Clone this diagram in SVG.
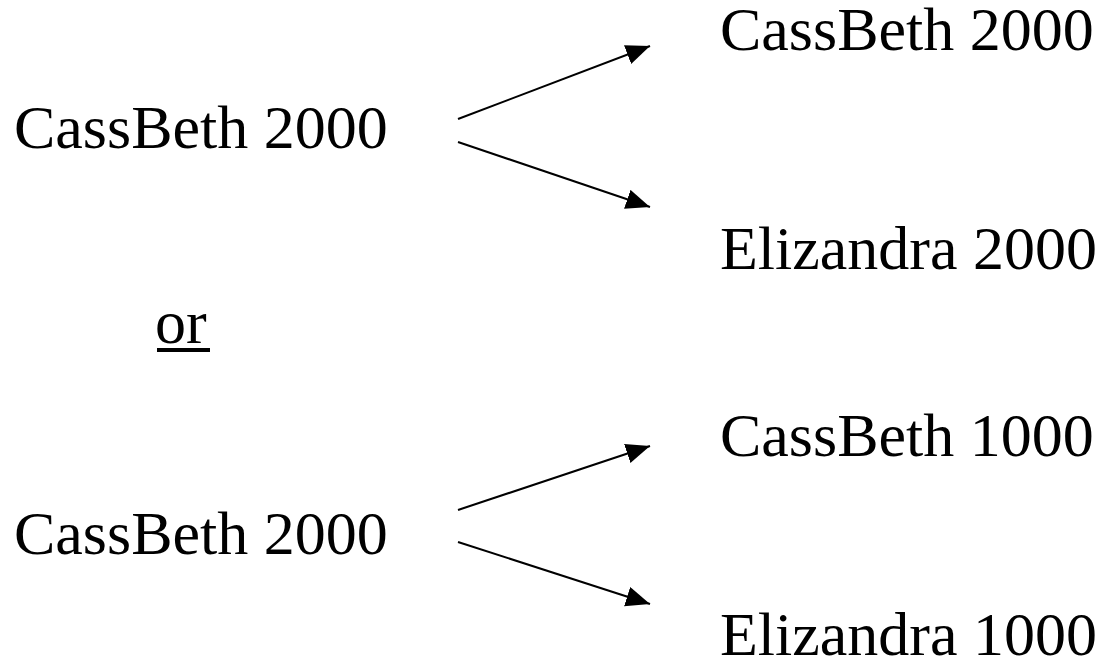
<svg xmlns="http://www.w3.org/2000/svg" width="1109" height="665" viewBox="0 0 1109 665">
<style>
.t{font-family:"Liberation Serif","Times New Roman",serif;font-size:62px;fill:#000}
.c{stroke:#000;stroke-width:2;fill:none}
</style>
<defs>
<marker id="ah" markerUnits="userSpaceOnUse" markerWidth="26" markerHeight="22" refX="24" refY="10" orient="auto">
<path d="M0,0 L24,10 L0,20 Z" fill="#000"/>
</marker>
</defs>
<rect width="1109" height="665" fill="#fff"/>
<g id="connectors">
<line class="c" x1="458" y1="119" x2="650" y2="46" marker-end="url(#ah)"/>
<line class="c" x1="458" y1="142" x2="650" y2="207" marker-end="url(#ah)"/>
<line class="c" x1="458" y1="510" x2="650" y2="446" marker-end="url(#ah)"/>
<line class="c" x1="458" y1="542" x2="650" y2="604" marker-end="url(#ah)"/>
</g>
<g id="src1"><text class="t" x="14" y="148">CassBeth 2000</text></g>
<g id="dst1"><text class="t" x="720" y="50">CassBeth 2000</text></g>
<g id="dst2"><text class="t" x="720" y="269">Elizandra 2000</text></g>
<g id="or"><text class="t" x="155" y="343">or</text><rect x="157" y="348" width="53" height="4" fill="#000"/></g>
<g id="dst3"><text class="t" x="720" y="456">CassBeth 1000</text></g>
<g id="src2"><text class="t" x="14" y="554">CassBeth 2000</text></g>
<g id="dst4"><text class="t" x="720" y="655">Elizandra 1000</text></g>
</svg>
